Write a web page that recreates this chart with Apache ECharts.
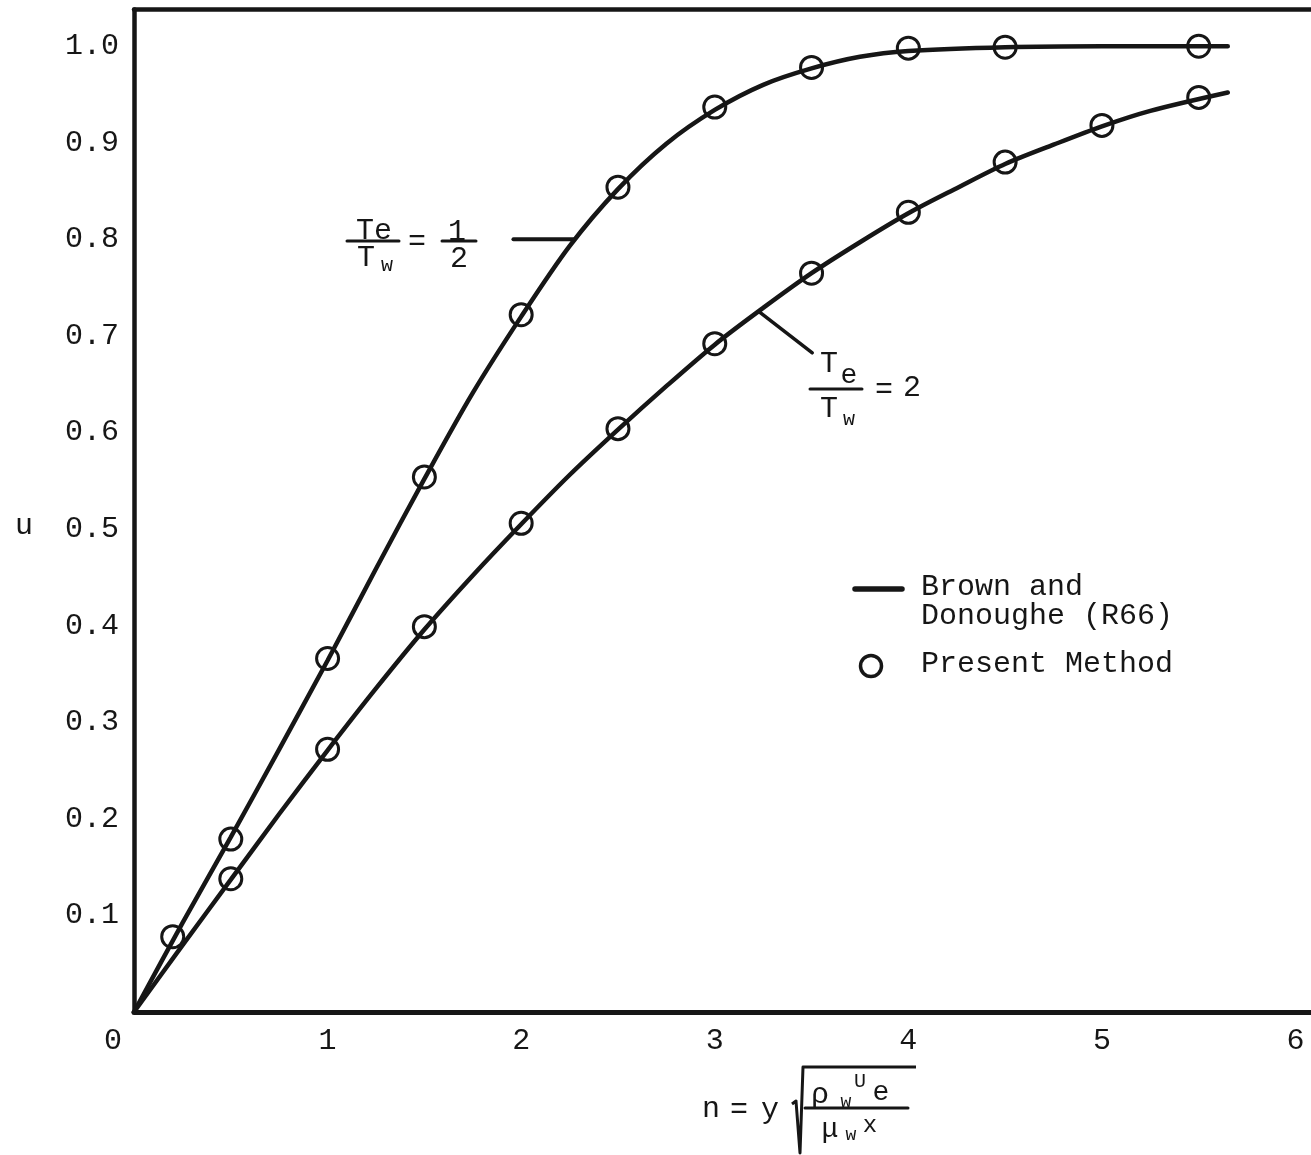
<!DOCTYPE html>
<html>
<head>
<meta charset="utf-8">
<script src="https://cdn.jsdelivr.net/npm/echarts@6/dist/echarts.min.js"></script>
<style>
  html, body { margin: 0; padding: 0; background: #fff; }
  #chart { width: 1311px; height: 1155px; }
</style>
</head>
<body>
<div id="chart"></div>
<script>
// Velocity profile u(n) — Brown and Donoughe (R66) vs present method
const FONT = '"Liberation Mono", "DejaVu Sans Mono", monospace';
const INK = '#161616';

const xTickValues = [0, 1, 2, 3, 4, 5, 6];
const yTickValues = [0.1, 0.2, 0.3, 0.4, 0.5, 0.6, 0.7, 0.8, 0.9, 1.0];

// Brown and Donoughe (R66) reference curves
const curveHalf = [[0, 0], [0.25, 0.092], [0.5, 0.181], [0.75, 0.272], [1, 0.364], [1.25, 0.459],
                   [1.5, 0.552], [1.75, 0.641], [2, 0.72], [2.25, 0.793], [2.5, 0.852], [2.75, 0.899],
                   [3, 0.934], [3.25, 0.960], [3.5, 0.977], [3.75, 0.989], [4, 0.995], [4.5, 0.999],
                   [5, 1.0], [5.65, 1.0]];
const curveTwo  = [[0, 0], [0.25, 0.069], [0.5, 0.137], [0.75, 0.205], [1, 0.271], [1.25, 0.335],
                   [1.5, 0.396], [1.75, 0.452], [2, 0.505], [2.25, 0.556], [2.5, 0.603], [2.75, 0.648],
                   [3, 0.691], [3.25, 0.729], [3.5, 0.765], [3.75, 0.797], [4, 0.827], [4.25, 0.853],
                   [4.5, 0.878], [4.75, 0.898], [5, 0.917], [5.25, 0.933], [5.65, 0.952]];

// Present method, Te/Tw = 1/2
const halfX = [0.2, 0.5, 1, 1.5, 2, 2.5, 3, 3.5, 4, 4.5, 5.5];
const halfU = [0.078, 0.179, 0.366, 0.554, 0.722, 0.854, 0.937, 0.978, 0.998, 0.999, 1.0];

// Present method, Te/Tw = 2
const twoX = [0.5, 1, 1.5, 2, 2.5, 3, 3.5, 4, 4.5, 5, 5.5];
const twoU = [0.138, 0.272, 0.399, 0.506, 0.604, 0.692, 0.765, 0.828, 0.880, 0.918, 0.947];

const pairs = (xs, ys) => xs.map((x, i) => [x, ys[i]]);

const chart = echarts.init(document.getElementById('chart'), null, { renderer: 'canvas' });

const lineSeries = (data) => ({
  type: 'line', data, smooth: 0.3, showSymbol: false,
  lineStyle: { color: INK, width: 4.5, cap: 'round', opacity: 1 }, z: 2, silent: true
});
const circleSeries = (data) => ({
  type: 'scatter', data, symbol: 'circle', symbolSize: 22,
  itemStyle: { color: 'rgba(0,0,0,0)', borderColor: INK, borderWidth: 3, opacity: 1 }, z: 3, silent: true
});

const option = {
  backgroundColor: '#fff',
  animation: false,
  textStyle: { fontFamily: FONT, color: INK },
  grid: { left: 134, right: 0, top: 9.5, bottom: 143, containLabel: false },
  xAxis: [{
    type: 'value', min: 0, max: 6.08, interval: 1,
    axisLine: { show: true, onZero: false, lineStyle: { color: INK, width: 5 } },
    axisTick: { show: false }, splitLine: { show: false },
    axisLabel: {
      show: true, margin: 14, fontFamily: FONT, fontSize: 30, color: INK, showMaxLabel: false,
      formatter: v => (v === 0 ? '{o|0}' : (xTickValues.includes(v) ? String(v) : '')),
      rich: { o: { fontFamily: FONT, fontSize: 30, color: INK, padding: [0, 42, 0, 0] } }
    }
  }, {
    type: 'value', position: 'top', min: 0, max: 6.08, interval: 1,
    axisLine: { show: true, onZero: false, lineStyle: { color: INK, width: 4.5 } },
    axisTick: { show: false }, splitLine: { show: false }, axisLabel: { show: false }
  }],
  yAxis: {
    type: 'value', min: 0, max: 1.038, interval: 0.1,
    name: 'u', nameLocation: 'middle', nameRotate: 0, nameGap: 101,
    nameTextStyle: { fontFamily: FONT, fontSize: 30, color: INK, verticalAlign: 'top' },
    axisLine: { show: true, onZero: false, lineStyle: { color: INK, width: 4.5 } },
    axisTick: { show: false }, splitLine: { show: false },
    axisLabel: {
      margin: 15, fontFamily: FONT, fontSize: 30, color: INK,
      showMinLabel: false, showMaxLabel: false,
      formatter: v => {
        const r = Math.round(v * 10) / 10;
        return yTickValues.some(t => Math.abs(t - r) < 1e-9) && Math.abs(v - r) < 1e-6 ? r.toFixed(1) : '';
      }
    }
  },
  series: [
    lineSeries(curveHalf),
    lineSeries(curveTwo),
    circleSeries(pairs(halfX, halfU)),
    circleSeries(pairs(twoX, twoU))
  ]
};

chart.setOption(option);

// Annotation helpers
const P = (x, y) => chart.convertToPixel({ gridIndex: 0 }, [x, y]);
const txt = (text, x, y, size, align) => ({
  type: 'text', x, y, silent: true, z: 10,
  style: { text, fontFamily: FONT, fontSize: size || 30, fill: INK, align: align || 'center', verticalAlign: 'middle' }
});
const seg = (x1, y1, x2, y2, w) => ({
  type: 'line', silent: true, z: 10,
  shape: { x1, y1, x2, y2 }, style: { stroke: INK, lineWidth: w || 3, lineCap: 'round' }
});

// leader lines end on the curves
const hA = P(2.27, 0.80);
const tA = P(3.23, 0.725);

const graphics = [
  // Te/Tw = 1/2
  txt('Te', 374, 231),
  seg(347, 241, 399, 241, 3),
  txt('T', 366, 258), txt('w', 387, 266, 20),
  txt('=', 417, 242),
  txt('1', 457, 232),
  seg(442, 241, 476, 241, 3),
  txt('2', 459, 259),
  seg(hA[0] - 60, hA[1], hA[0], hA[1], 4),

  // Te/Tw = 2
  seg(tA[0], tA[1], tA[0] + 53, tA[1] + 41, 3.5),
  txt('T', 829, 364), txt('e', 849, 376, 28),
  seg(810, 389, 862, 389, 3),
  txt('T', 829, 409), txt('w', 849, 420, 20),
  txt('=', 884, 390), txt('2', 912, 388),

  // legend
  seg(855, 589, 902, 589, 5.5),
  txt('Brown and', 921, 587, 30, 'left'),
  txt('Donoughe (R66)', 921, 616, 30, 'left'),
  { type: 'circle', silent: true, z: 10, shape: { cx: 871, cy: 666, r: 10.5 },
    style: { fill: 'none', stroke: INK, lineWidth: 3.5 } },
  txt('Present Method', 921, 664, 30, 'left'),

  // x-axis title: n = y sqrt(rho_w U_e / mu_w x)
  txt('n', 711, 1109), txt('=', 739, 1110), txt('y', 770, 1110),
  { type: 'polyline', silent: true, z: 10,
    shape: { points: [[792, 1104], [796, 1101], [800, 1153], [803, 1067], [916, 1067]] },
    style: { fill: 'none', stroke: INK, lineWidth: 3, lineJoin: 'round' } },
  txt('\u03c1', 820, 1095, 30), txt('w', 846, 1102, 18), txt('U', 860, 1082, 20), txt('e', 881, 1093, 28),
  seg(805, 1108, 908, 1108, 3),
  txt('\u03bc', 830, 1130, 28), txt('w', 851, 1135, 18), txt('x', 870, 1126, 24)
];

chart.setOption({ graphic: graphics });
</script>
</body>
</html>
